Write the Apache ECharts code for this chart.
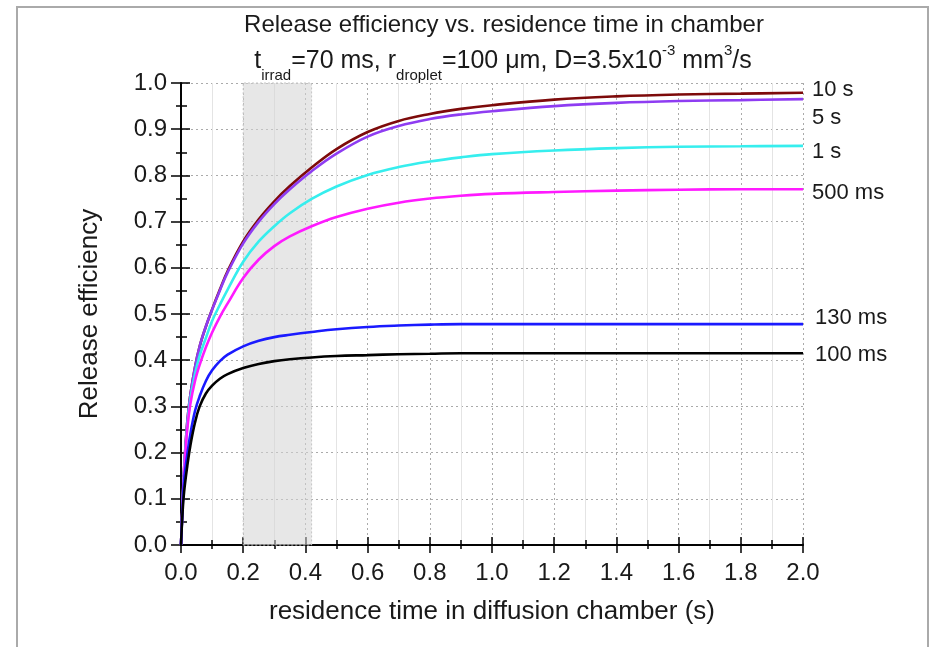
<!DOCTYPE html>
<html>
<head>
<meta charset="utf-8">
<script src="https://cdn.jsdelivr.net/npm/echarts@6/dist/echarts.min.js"></script>
<style>
  html, body { margin: 0; padding: 0; background: #fff; }
  #chart { width: 932px; height: 647px; }
</style>
</head>
<body>
<div id="chart"></div>
<script>
// residence time (s) and release efficiency
const timeS     = [0, 0.005, 0.01, 0.02, 0.03, 0.045, 0.06, 0.08, 0.1, 0.125, 0.15, 0.2, 0.25, 0.3, 0.35, 0.42, 0.5, 0.6, 0.7, 0.8, 0.9, 1.0, 1.2, 1.4, 1.6, 1.8, 2.0];
const eff10s    = [0, 0.09, 0.165, 0.265, 0.325, 0.385, 0.43, 0.473, 0.51, 0.553, 0.593, 0.657, 0.705, 0.744, 0.777, 0.817, 0.857, 0.894, 0.918, 0.933, 0.944, 0.952, 0.964, 0.971, 0.975, 0.977, 0.979];
const eff5s     = [0, 0.09, 0.165, 0.265, 0.325, 0.385, 0.43, 0.473, 0.509, 0.551, 0.59, 0.653, 0.7, 0.738, 0.77, 0.809, 0.847, 0.884, 0.907, 0.922, 0.932, 0.939, 0.95, 0.957, 0.961, 0.963, 0.965];
const eff1s     = [0, 0.085, 0.16, 0.255, 0.315, 0.37, 0.41, 0.448, 0.485, 0.52, 0.553, 0.613, 0.657, 0.69, 0.718, 0.749, 0.776, 0.801, 0.818, 0.83, 0.839, 0.846, 0.854, 0.859, 0.862, 0.863, 0.864];
const eff500ms  = [0, 0.085, 0.155, 0.25, 0.305, 0.355, 0.39, 0.428, 0.46, 0.494, 0.523, 0.578, 0.618, 0.647, 0.668, 0.69, 0.71, 0.728, 0.741, 0.75, 0.756, 0.76, 0.764, 0.767, 0.769, 0.77, 0.77];
const eff130ms  = [0, 0.08, 0.14, 0.195, 0.24, 0.29, 0.322, 0.355, 0.378, 0.398, 0.412, 0.43, 0.442, 0.45, 0.455, 0.461, 0.467, 0.472, 0.475, 0.477, 0.478, 0.478, 0.478, 0.478, 0.478, 0.478, 0.478];
const eff100ms  = [0, 0.07, 0.115, 0.17, 0.215, 0.265, 0.30, 0.328, 0.345, 0.36, 0.37, 0.383, 0.392, 0.398, 0.402, 0.406, 0.409, 0.411, 0.413, 0.414, 0.415, 0.415, 0.415, 0.415, 0.415, 0.415, 0.415];
const shadedRange = [0.2, 0.42];

const FONT = '"Liberation Sans", Arial, sans-serif';
const INK = '#1a1a1a';

const curves = [
    { name: '10 s',   values: eff10s,   color: '#7d0a0a', offset: [0, -3] },
    { name: '5 s',    values: eff5s,    color: '#8e3cf2', offset: [0, 19] },
    { name: '1 s',    values: eff1s,    color: '#36eeee', offset: [0, 6] },
    { name: '500 ms', values: eff500ms, color: '#ff1aff', offset: [0, 4] },
    { name: '130 ms', values: eff130ms, color: '#1a1aff', offset: [3, -6] },
    { name: '100 ms', values: eff100ms, color: '#000000', offset: [3, 2] },
];

const chart = echarts.init(document.getElementById('chart'));

const fmt1 = v => v.toFixed(1);
const axisLine = { show: true, lineStyle: { color: '#000', width: 1.5 } };
const noLabel = { show: false };

const base = { type: 'value', min: 0, max: 2, interval: 0.2 };
const baseY = { type: 'value', min: 0, max: 1, interval: 0.1 };

const option = {
    backgroundColor: '#fff',
    animation: false,
    grid: { left: 181, right: 129, top: 83, bottom: 102, containLabel: false },
    xAxis: [
        {
            ...base, position: 'bottom',
            axisLine,
            axisTick: { inside: false, length: 8, lineStyle: { color: '#000', width: 1.5 } },
            axisLabel: { formatter: fmt1, color: INK, fontSize: 24, fontFamily: FONT, margin: 16 },
            splitLine: { show: true, lineStyle: { color: '#aaa', type: [2, 3], width: 1 } },
            minorTick: { show: false, splitNumber: 2 },
            minorSplitLine: { show: true, lineStyle: { color: '#e4e4e4', width: 1 } },
            name: 'residence time in diffusion chamber (s)',
            nameLocation: 'middle', nameGap: 54,
            nameTextStyle: { color: INK, fontSize: 26, fontFamily: FONT },
        },
        {
            ...base, position: 'bottom',
            axisLine,
            axisTick: { inside: true, length: 8, lineStyle: { color: '#000', width: 1.5 } },
            minorTick: { show: true, splitNumber: 2, length: 5, lineStyle: { color: '#000', width: 1.5 } },
            axisLabel: noLabel, splitLine: { show: false },
        },
        {
            ...base, position: 'top',
            axisLine,
            axisTick: { inside: true, length: 6, lineStyle: { color: '#000', width: 1.5 } },
            minorTick: { show: true, splitNumber: 2, length: 4, lineStyle: { color: '#000', width: 1.5 } },
            axisLabel: noLabel, splitLine: { show: false },
        },
    ],
    yAxis: [
        {
            ...baseY, position: 'left',
            axisLine,
            axisTick: { inside: false, length: 9, lineStyle: { color: '#000', width: 1.5 } },
            axisLabel: { formatter: fmt1, color: INK, fontSize: 24, fontFamily: FONT, margin: 14 },
            splitLine: { show: true, lineStyle: { color: '#aaa', type: [2, 3], width: 1 } },
            name: 'Release efficiency',
            nameLocation: 'middle', nameGap: 78,
            nameTextStyle: { color: INK, fontSize: 26, fontFamily: FONT },
        },
        {
            ...baseY, position: 'left',
            axisLine,
            axisTick: { inside: true, length: 9, lineStyle: { color: '#000', width: 1.5 } },
            minorTick: { show: true, splitNumber: 2, length: 6, lineStyle: { color: '#000', width: 1.5 } },
            axisLabel: noLabel, splitLine: { show: false },
        },
        {
            ...baseY, position: 'right',
            axisLine,
            axisTick: { inside: true, length: 10, lineStyle: { color: '#000', width: 1.5 } },
            minorTick: { show: true, splitNumber: 2, length: 5, lineStyle: { color: '#000', width: 1.5 } },
            axisLabel: noLabel, splitLine: { show: false },
        },
    ],
    series: [
        ...curves.map(c => ({
            name: c.name,
            type: 'line',
            data: timeS.map((t, i) => [t, c.values[i]]),
            showSymbol: false,
            smooth: 0.4,
            lineStyle: { color: c.color, width: 2.6 },
            itemStyle: { color: c.color },
            endLabel: {
                show: true,
                formatter: c.name,
                color: INK,
                fontSize: 22,
                fontFamily: FONT,
                distance: 9,
                offset: c.offset,
            },
            z: 3,
        })),
        {
            name: 'shade',
            type: 'line',
            data: [],
            z: 5,
            markArea: {
                silent: true,
                itemStyle: { color: 'rgba(212,212,212,0.55)', borderColor: '#c4c4c4', borderWidth: 1, borderType: [2, 2] },
                data: [[{ xAxis: shadedRange[0] }, { xAxis: shadedRange[1] }]],
            },
        },
    ],
    graphic: [
        {
            type: 'rect', silent: true,
            shape: { x: 17, y: 7, width: 911, height: 680 },
            style: { fill: 'none', stroke: '#aaa', lineWidth: 2 },
        },
        {
            type: 'text', x: 504, y: 25,
            style: {
                text: 'Release efficiency vs. residence time in chamber',
                fontSize: 24, fontFamily: FONT, fill: INK,
                textAlign: 'center', textVerticalAlign: 'middle',
            },
        },
        {
            type: 'text', x: 503, y: 61,
            style: {
                text: '{a|t}{s|irrad}{a|=70 ms, r}{s|droplet}{a|=100 μm, D=3.5x10}{p|-3}{a| mm}{p|3}{a|/s}',
                fill: INK, fontFamily: FONT,
                textAlign: 'center', textVerticalAlign: 'middle',
                rich: {
                    a: { fontSize: 25, fontFamily: FONT, fill: INK, lineHeight: 44, verticalAlign: 'middle' },
                    s: { fontSize: 15, fontFamily: FONT, fill: INK, lineHeight: 12, verticalAlign: 'bottom' },
                    p: { fontSize: 15, fontFamily: FONT, fill: INK, lineHeight: 15, verticalAlign: 'top', padding: [4, 0, 0, 0] },
                },
            },
        },
    ],
};

chart.setOption(option);
</script>
</body>
</html>
